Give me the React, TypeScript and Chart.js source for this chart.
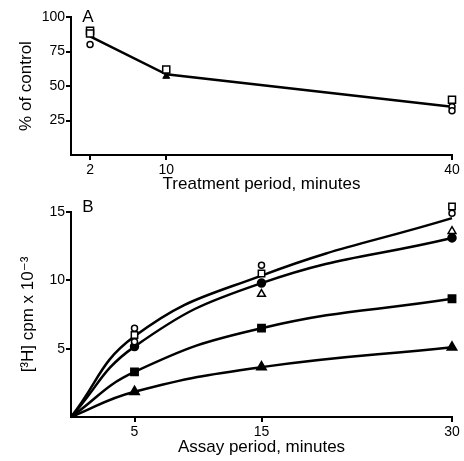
import React, { useEffect, useRef } from "react";
import { Chart, registerables } from "chart.js";
Chart.register(...registerables);

// Panel A data
const treatTicks = [2, 10, 40];
const pctTicks = [25, 50, 75, 100];
const aLineX = [2, 10, 40];
const aLineY = [86, 58.5, 35];
const aSquareX = [2, 2, 10, 40];
const aSquareY = [90, 88, 62, 40];
const aCircleX = [2, 40, 40];
const aCircleY = [80, 35, 32];
const aTriX = [10];
const aTriY = [57];

// Panel B data
const assayTicks = [5, 15, 30];
const cpmTicks = [5, 10, 15];
const assayX = [0, 5, 15, 30];
const curveOpen = [0, 5.9, 10.35, 14.55];
const curveFilledCircle = [0, 5.15, 9.8, 13.1];
const curveFilledSquare = [0, 3.3, 6.5, 8.65];
const curveFilledTriangle = [0, 1.85, 3.65, 5.1];
const bOpenCircleX = [5, 5, 15, 30];
const bOpenCircleY = [6.5, 5.5, 11.1, 14.9];
const bOpenSquareX = [5, 15, 30];
const bOpenSquareY = [6.0, 10.5, 15.4];
const bOpenTriX = [15, 30];
const bOpenTriY = [9.0, 13.6];

const FONT = "'Liberation Sans', 'DejaVu Sans', Arial, sans-serif";

const pts = (xs: number[], ys: number[]) => xs.map((x, i) => ({ x, y: ys[i] }));

function axis(opts: {
  min: number;
  max: number;
  ticks: number[];
  title: string;
  isY: boolean;
  size: number;
  titlePad: number;
  tickPad: number;
}) {
  return {
    type: "linear",
    position: opts.isY ? "left" : "bottom",
    min: opts.min,
    max: opts.max,
    afterBuildTicks: (s: any) => {
      s.ticks = opts.ticks.map((v) => ({ value: v }));
    },
    afterFit: (s: any) => {
      if (opts.isY) s.width = opts.size;
      else s.height = opts.size;
    },
    border: { display: true, color: "#000", width: 2 },
    grid: {
      display: true,
      drawOnChartArea: false,
      drawTicks: true,
      tickLength: 5,
      color: "#000",
      lineWidth: 2,
    },
    ticks: {
      color: "#000",
      padding: opts.tickPad,
      font: { family: FONT, size: 14 },
      maxRotation: 0,
      autoSkip: false,
      callback: (v: any) => String(v),
    },
    title: {
      display: true,
      text: opts.title,
      color: "#000",
      font: { family: FONT, size: 17 },
      padding: opts.isY ? { top: opts.titlePad, bottom: 0 } : { top: 0, bottom: opts.titlePad },
    },
  };
}

function panelLabel(text: string, dx: number, dy: number) {
  return {
    id: "panelLabel" + text,
    afterDraw(chart: any) {
      const { ctx, chartArea } = chart;
      ctx.save();
      ctx.fillStyle = "#000";
      ctx.font = `17px ${FONT}`;
      ctx.textAlign = "center";
      ctx.textBaseline = "middle";
      ctx.fillText(text, chartArea.left + dx, chartArea.top + dy);
      ctx.restore();
    },
  };
}

const open = { backgroundColor: "#fff", borderColor: "#000", borderWidth: 1.5 };
const filled = { backgroundColor: "#000", borderColor: "#000", borderWidth: 1 };

const curve = (ys: number[], style: string, r: number) => ({
  data: pts(assayX, ys),
  showLine: true,
  cubicInterpolationMode: "default",
  tension: 0.45,
  borderColor: "#000",
  backgroundColor: "#000",
  borderWidth: 2.5,
  pointStyle: style,
  pointRadius: ys.map((_, i) => (i === 0 ? 0 : r)),
  order: 5,
});

export default function App() {
  const refA = useRef<HTMLCanvasElement>(null);
  const refB = useRef<HTMLCanvasElement>(null);

  useEffect(() => {
    const chartA = new Chart(refA.current as HTMLCanvasElement, {
      type: "scatter",
      data: {
        datasets: [
          {
            data: pts(aLineX, aLineY),
            showLine: true,
            borderColor: "#000",
            borderWidth: 2.5,
            pointRadius: 0,
            tension: 0,
            order: 5,
          },
          { data: pts(aSquareX, aSquareY), pointStyle: "rect", pointRadius: 5, ...open },
          { data: pts(aCircleX, aCircleY), pointStyle: "circle", pointRadius: 3, ...open },
          { data: pts(aTriX, aTriY), pointStyle: "triangle", pointRadius: 4, ...filled },
        ] as any,
      },
      options: {
        animation: false,
        responsive: false,
        clip: false as any,
        layout: { padding: { top: 17, right: 12, bottom: 0, left: 0 } },
        plugins: { legend: { display: false }, tooltip: { enabled: false } },
        scales: {
          x: axis({ min: 0, max: 40, ticks: treatTicks, title: "Treatment period, minutes", isY: false, size: 45, titlePad: 5, tickPad: 2 }),
          y: axis({ min: 0, max: 100, ticks: pctTicks, title: "% of control", isY: true, size: 71, titlePad: 16, tickPad: 1 }),
        } as any,
      },
      plugins: [panelLabel("A", 17, 0)],
    });

    const chartB = new Chart(refB.current as HTMLCanvasElement, {
      type: "scatter",
      data: {
        datasets: [
          curve(curveOpen, "circle", 0),
          curve(curveFilledCircle, "circle", 3.5),
          curve(curveFilledSquare, "rect", 4.5),
          curve(curveFilledTriangle, "triangle", 4.5),
          { data: pts(bOpenCircleX, bOpenCircleY), pointStyle: "circle", pointRadius: 3, ...open },
          { data: pts(bOpenSquareX, bOpenSquareY), pointStyle: "rect", pointRadius: 4.5, ...open },
          { data: pts(bOpenTriX, bOpenTriY), pointStyle: "triangle", pointRadius: 4.5, ...open },
        ] as any,
      },
      options: {
        animation: false,
        responsive: false,
        clip: false as any,
        layout: { padding: { top: 22, right: 12, bottom: 0, left: 0 } },
        plugins: { legend: { display: false }, tooltip: { enabled: false } },
        scales: {
          x: axis({ min: 0, max: 30, ticks: assayTicks, title: "Assay period, minutes", isY: false, size: 44, titlePad: 3, tickPad: 2 }),
          y: axis({ min: 0, max: 15, ticks: cpmTicks, title: "[³H] cpm x 10⁻³", isY: true, size: 71, titlePad: 18, tickPad: 1 }),
        } as any,
      },
      plugins: [panelLabel("B", 17, -5)],
    });

    return () => {
      chartA.destroy();
      chartB.destroy();
    };
  }, []);

  return (
    <div style={{ position: "fixed", left: 0, top: 0, width: 464, height: 461, background: "#fff" }}>
      <canvas ref={refA} width={464} height={200} style={{ position: "absolute", left: 0, top: 0, width: 464, height: 200 }} />
      <canvas ref={refB} width={464} height={271} style={{ position: "absolute", left: 0, top: 190, width: 464, height: 271 }} />
    </div>
  );
}
